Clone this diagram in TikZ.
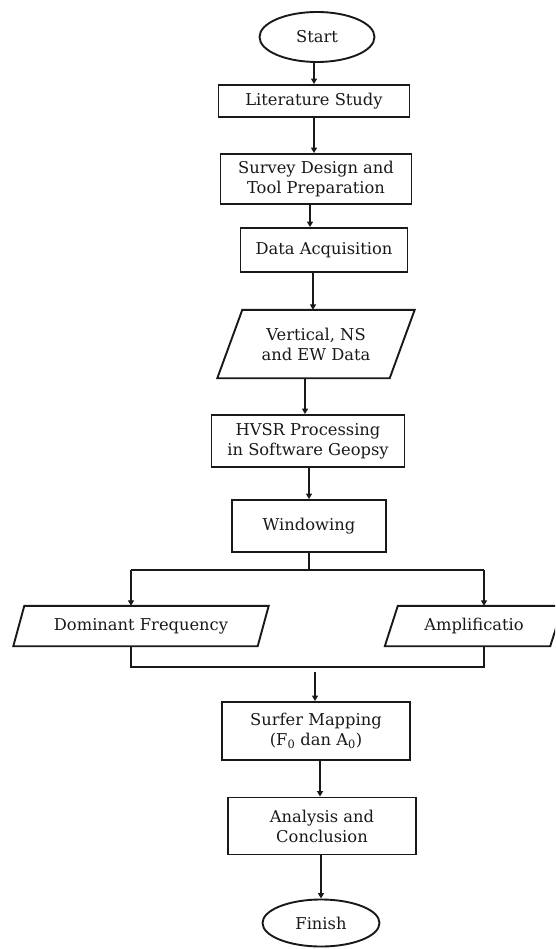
\documentclass[tikz,border=0pt]{standalone}
\usepackage{fontspec}
\setmainfont{DejaVu Serif}
\usetikzlibrary{arrows.meta,shapes.geometric,calc}
\begin{document}
\begin{tikzpicture}[x=1pt,y=-1pt,
  lw/.style={line width=1.9pt,draw=black!90},
  box/.style={lw,rectangle,inner sep=0pt,align=center},
  oval/.style={lw,ellipse,inner sep=0pt},
  para/.style={inner sep=0pt,align=center},
  conn/.style={lw},
  arr/.style={lw,-{Triangle[length=5.5pt,width=6pt]}},
  font=\fontsize{16.3}{20}\selectfont\color{black!90}]
\useasboundingbox (0,0) rectangle (555,949);
\clip (0,0) rectangle (555,949);
% nodes
\node[oval,minimum width=115,minimum height=50] (start) at (317,37) {Start};
\node[box,minimum width=191,minimum height=32] (lit) at (314,101) {Literature Study};
\node[box,minimum width=191,minimum height=50] (survey) at (316,179) {Survey Design and\\Tool Preparation};
\node[box,minimum width=167,minimum height=44] (dacq) at (324,250) {Data Acquisition};
\node[para,minimum width=172,minimum height=68] (vert) at (316,344) {Vertical, NS\\and EW Data};
\draw[lw] ([xshift=12.5]vert.north west) -- ([xshift=12.5]vert.north east)
  -- ([xshift=-12.5]vert.south east) -- ([xshift=-12.5]vert.south west) -- cycle;
\node[box,minimum width=193,minimum height=52] (hvsr) at (308,441) {HVSR Processing\\in Software Geopsy};
\node[box,minimum width=154,minimum height=52] (win) at (309,526) {Windowing};
\node[para,minimum width=244,minimum height=40] (dom) at (141,626) {Dominant Frequency};
\draw[lw] ([xshift=5.5]dom.north west) -- ([xshift=5.5]dom.north east)
  -- ([xshift=-5.5]dom.south east) -- ([xshift=-5.5]dom.south west) -- cycle;
\node[para,minimum width=165,minimum height=40] (amp) at (474,626) {Amplificatio};
\draw[lw] ([xshift=6.5]amp.north west) -- ([xshift=6.5]amp.north east)
  -- ([xshift=-6.5]amp.south east) -- ([xshift=-6.5]amp.south west) -- cycle;
\node[box,minimum width=188,minimum height=58] (surfer) at (316,731) {Surfer Mapping\\(F\textsubscript{0} dan A\textsubscript{0})};
\node[box,minimum width=188,minimum height=57] (anal) at (322,826) {Analysis and\\Conclusion};
\node[oval,minimum width=117,minimum height=47] (finish) at (321,923) {Finish};
% coordinates
\coordinate (sp) at (309,570);
\coordinate (spL) at (131,570);
\coordinate (spR) at (484,570);
\coordinate (mL) at (131,667);
\coordinate (mR) at (484,667);
\coordinate (mg) at (315,672);
% connectors
\draw[arr] (start.south -| lit.north) -- (lit.north);
\draw[arr] (lit.south) -- (lit.south |- survey.north);
\draw[arr] (survey.south -| 310,0) -- (dacq.north -| 310,0);
\draw[arr] (dacq.south -| 313,0) -- (vert.north -| 313,0);
\draw[arr] (vert.south -| 305,0) -- (hvsr.north -| 305,0);
\draw[arr] (hvsr.south -| win.north) -- (win.north);
\draw[conn] (win.south) -- (sp);
\draw[conn] (spL) -- (spR);
\draw[arr] (spL) -- (spL |- dom.north);
\draw[arr] (spR) -- (spR |- amp.north);
\draw[conn] (spL |- dom.south) -- (mL) -- (mR) -- (spR |- amp.south);
\draw[arr] (mg) -- (mg |- surfer.north);
\draw[arr] (surfer.south -| 320,0) -- (anal.north -| 320,0);
\draw[arr] (anal.south -| finish.north) -- (finish.north);
\end{tikzpicture}
\end{document}
